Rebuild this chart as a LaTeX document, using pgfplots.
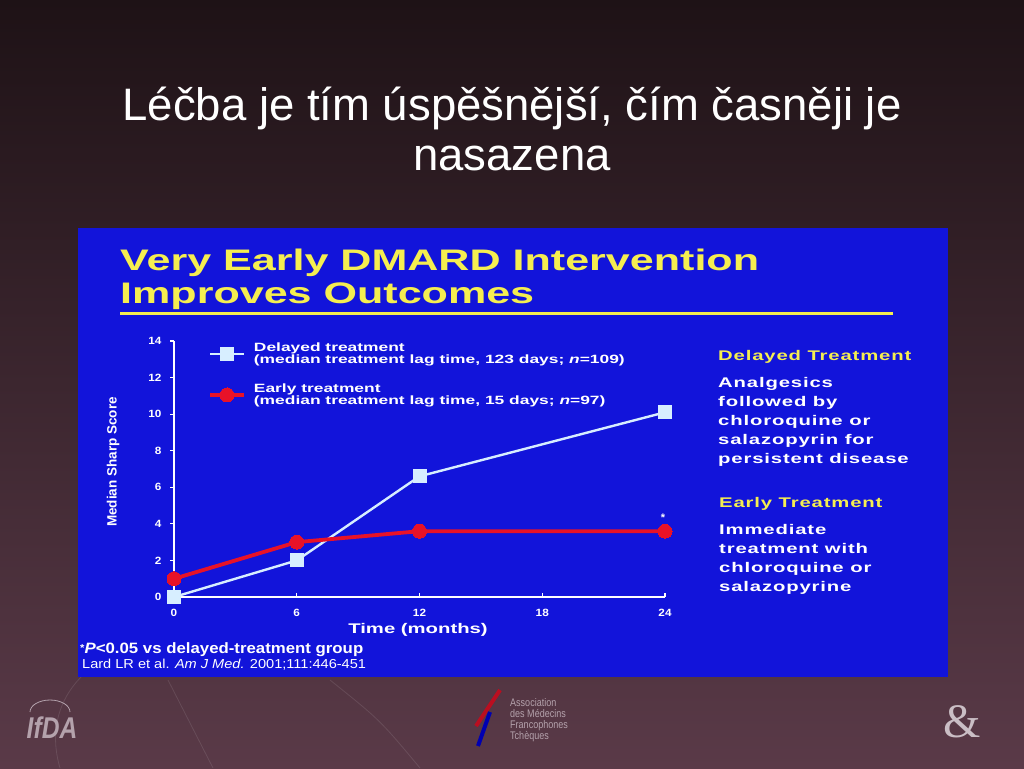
\documentclass[border=0pt]{standalone}
\usepackage{pgfplots}
\pgfplotsset{compat=1.18}
\usepackage{fontspec}
\setmainfont{Liberation Sans}
\newfontfamily\pwide[FakeStretch=1.45]{Liberation Sans}
\newfontfamily\pnarrow[FakeStretch=1.12]{Liberation Sans}
\newfontfamily\pcond[FakeStretch=0.82]{Liberation Sans}
\newfontfamily\pserif{Liberation Serif}

\definecolor{slidetop}{RGB}{30,18,22}
\definecolor{slidebot}{RGB}{90,58,72}
\definecolor{panel}{RGB}{18,20,218}
\definecolor{ylw}{RGB}{245,238,80}
\definecolor{delayed}{RGB}{215,238,255}
\definecolor{early}{RGB}{232,18,40}
\definecolor{logo}{RGB}{180,162,172}

\begin{document}
\begin{tikzpicture}[x=1pt,y=1pt]
\useasboundingbox (0,0) rectangle (1024,-768);
% slide background
\shade[top color=slidetop, bottom color=slidebot] (0,0) rectangle (1024,-768);
\draw[white, opacity=0.10, line width=0.8pt] (168,-680) -- (213,-768);
\draw[white, opacity=0.10, line width=0.8pt] (330,-680) .. controls (380,-720) .. (420,-768);
\draw[white, opacity=0.10, line width=0.8pt] (60,-768) .. controls (40,-700) and (90,-650) .. (160,-640);

% slide title
\node[anchor=base, text=white, font=\fontsize{45.5}{50}\selectfont, inner sep=0pt] at (512,-120) {Léčba je tím úspěšnější, čím časněji je};
\node[anchor=base, text=white, font=\fontsize{45.5}{50}\selectfont, inner sep=0pt] at (512,-170) {nasazena};

% blue panel
\fill[panel] (78,-228) rectangle (948,-677);
\node[anchor=base west, text=ylw, font=\pwide\bfseries\fontsize{29.7}{33}\selectfont, inner sep=0pt] at (120,-270) {Very Early DMARD Intervention};
\node[anchor=base west, text=ylw, font=\pwide\bfseries\fontsize{29.7}{33}\selectfont, inner sep=0pt] at (120,-303) {Improves Outcomes};
\draw[ylw, line width=3pt] (120,-313) -- (893,-313);

% right-hand text
\node[anchor=base west, text=ylw, font=\pwide\bfseries\addfontfeature{LetterSpace=6}\fontsize{14}{19}\selectfont, inner sep=0pt] at (718,-360) {Delayed Treatment};
\foreach \yy/\txt in {387/Analgesics, 406/followed by, 425/chloroquine or, 444/salazopyrin for, 463/persistent disease}
  \node[anchor=base west, text=white, font=\pwide\bfseries\addfontfeature{LetterSpace=6}\fontsize{14}{19}\selectfont, inner sep=0pt] at (718,-\yy) {\txt};
\node[anchor=base west, text=ylw, font=\pwide\bfseries\addfontfeature{LetterSpace=6}\fontsize{14}{19}\selectfont, inner sep=0pt] at (719,-507) {Early Treatment};
\foreach \yy/\txt in {534/Immediate, 553/treatment with, 572/chloroquine or, 591/salazopyrine}
  \node[anchor=base west, text=white, font=\pwide\bfseries\addfontfeature{LetterSpace=6}\fontsize{14}{19}\selectfont, inner sep=0pt] at (719,-\yy) {\txt};

% footnotes
\node[anchor=base west, text=white, font=\pnarrow\bfseries\fontsize{15}{17}\selectfont, inner sep=0pt] at (80,-653) {\raisebox{0.2ex}{\fontsize{10}{10}\selectfont*}\textit{P}<0.05 vs delayed-treatment group};
\node[anchor=base west, text=white, font=\pnarrow\fontsize{13}{15}\selectfont, inner sep=0pt] at (82,-668) {Lard LR et al. \textit{Am J Med.} 2001;111:446-451};

% chart
\begin{axis}[
  at={(174pt,-597pt)}, anchor=south west,
  scale only axis, width=491pt, height=256pt,
  xmin=0, xmax=24, ymin=0, ymax=14,
  clip=false,
  axis lines=left,
  axis line style={white, line width=1.4pt, -},
  xtick={0,6,12,18,24},
  ytick={0,2,...,14},
  tick style={white, line width=1.2pt},
  major tick length=4pt,
  tick align=outside,
  xtick align=inside,
  ticklabel style={text=white, font=\pnarrow\bfseries\fontsize{10.5}{12}\selectfont},
  xticklabel style={yshift=-9pt},
  yticklabel style={xshift=-5pt},
  /pgf/number format/assume math mode=true,
  xlabel={Time (months)},
  ylabel={Median Sharp Score},
  xlabel style={font=\pwide\bfseries\fontsize{14}{16}\selectfont, text=white,
    at={(axis description cs:0.497,-0.129)}, anchor=center},
  ylabel style={font=\bfseries\fontsize{13.5}{16}\selectfont, text=white,
    at={(axis description cs:-0.124,0.527)}, anchor=center},
  legend style={at={(0.063,1.01)}, anchor=north west, draw=none, fill=none,
    text=white, font=\pwide\bfseries\fontsize{12}{12}\selectfont,
    cells={align=left, anchor=west}, row sep=15pt,
    /tikz/every odd column/.append style={column sep=6pt}},
  legend image code/.code={\draw[mark repeat=2, mark phase=2, #1]
    plot coordinates {(0pt,0pt) (17pt,0pt) (34pt,0pt)};},
]
\addplot[delayed, line width=2.4pt, mark=square*, mark size=6.5pt,
  mark options={fill=delayed, draw=delayed, line width=0pt}]
  coordinates {(0,0) (6,2.0) (12,6.6) (24,10.1)};
\addlegendentry{Delayed treatment\\(median treatment lag time, 123 days; \textit{n}=109)}
\addplot[early, line width=3.8pt, mark=*, mark size=7pt,
  mark options={fill=early, draw=early, line width=0pt}]
  coordinates {(0,1.0) (6,3.0) (12,3.6) (24,3.6)};
\addlegendentry{Early treatment\\(median treatment lag time, 15 days; \textit{n}=97)}
\node[text=white, font=\bfseries\fontsize{11}{12}\selectfont] at (axis cs:23.9,4.35) {*};
\end{axis}

% footer logos
\node[anchor=center, text=logo, font=\pcond\bfseries\itshape\fontsize{30}{32}\selectfont] at (52,-728) {IfDA};
\draw[logo, line width=0.8pt] (30,-712) arc (180:0:20 and 12);
\draw[early!80!black, line width=4pt] (500,-690) -- (476,-726);
\draw[blue!70!black, line width=4pt] (490,-712) -- (478,-746);
\foreach \yy/\txt in {706/Association, 717/des Médecins, 728/Francophones, 739/Tchèques}
  \node[anchor=base west, text=logo, font=\pcond\fontsize{11}{12}\selectfont, inner sep=0pt] at (510,-\yy) {\txt};
\node[anchor=center, text=logo!70!white, font=\pserif\fontsize{48}{50}\selectfont] at (962,-722) {\&};
\end{tikzpicture}
\end{document}
